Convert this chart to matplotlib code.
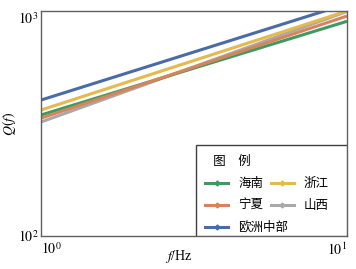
import matplotlib
matplotlib.use("Agg")
import matplotlib.pyplot as plt
from matplotlib.lines import Line2D
from matplotlib.patches import Rectangle

plt.rcParams["mathtext.fontset"] = "stix"
plt.rcParams["font.family"] = ["Liberation Serif", "DejaVu Serif"]

f = [1, 10]
x_ticks = [1, 10]
x_tick_labels = [r"$10^{0}$", r"$10^{1}$"]
y_ticks = [100, 1000]
y_tick_labels = [r"$10^{2}$", r"$10^{3}$"]
series_names = ["海南", "宁夏", "欧洲中部", "浙江", "山西"]
q_hainan = [345, 900]
q_ningxia = [334, 950]
q_europe = [402, 1075]
q_zhejiang = [363, 1000]
q_shanxi = [321, 995]
colors = ["#3f9a62", "#d9835a", "#4a6aa8", "#e6b94c", "#a9a9a9"]

W, H = 356, 269
fig = plt.figure(figsize=(W/100, H/100), dpi=100)
ax = fig.add_axes([41/W, 1-236/H, 306/W, 225/H])

draw_order = [(q_shanxi, 4), (q_hainan, 0), (q_ningxia, 1), (q_zhejiang, 3), (q_europe, 2)]
for q, i in draw_order:
    ax.plot(f, q, color=colors[i], lw=2.2, solid_capstyle="butt")

ax.set_xscale("log")
ax.set_yscale("log")
ax.set_xlim(1, 10)
ax.set_ylim(100, 1000)
ax.set_xticks(x_ticks, x_tick_labels)
ax.set_yticks(y_ticks, y_tick_labels)
ax.minorticks_off()
ax.tick_params(length=0, labelsize=10)
ax.tick_params(axis="x", pad=4)
ax.tick_params(axis="y", pad=2)
xl = ax.get_xticklabels()
xl[0].set_horizontalalignment("left")
xl[-1].set_horizontalalignment("right")
yl = ax.get_yticklabels()
yl[-1].set_verticalalignment("top")
for s in ax.spines.values():
    s.set_color("#606060")
    s.set_linewidth(1.0)

ax.set_xlabel(r"$f$/Hz", fontsize=10, labelpad=0)
ax.set_ylabel(r"$Q(f)$", fontsize=10, labelpad=2)
ax.xaxis.set_label_coords(0.45, -0.055)
ax.xaxis.label.set_verticalalignment("top")
ax.yaxis.set_label_coords(-0.075, 0.5)

# legend frame
frame = Rectangle((155/306, 0), 151/306, 91/225, transform=ax.transAxes,
                  facecolor="white", edgecolor="#404040", lw=1.0, zorder=4)
ax.add_patch(frame)

handles = []
for i in range(5):
    handles.append(Line2D([0], [0], color=colors[i], lw=2.2, marker="D", markersize=2.5))
leg = ax.legend(handles, series_names, ncol=2, title="   图　例",
                loc="lower left", bbox_to_anchor=(164/306, 2/225),
                prop={"family": ["Noto Sans CJK SC", "DejaVu Sans"], "size": 9},
                frameon=False, alignment="left",
                handlelength=1.85, handletextpad=0.8, columnspacing=-1.4,
                labelspacing=0.72, borderpad=0, borderaxespad=0)
leg.get_title().set_fontfamily(["Noto Sans CJK SC", "DejaVu Sans"])
leg.get_title().set_fontsize(9)
leg.set_zorder(5)

fig.savefig("out.png", dpi=100)
